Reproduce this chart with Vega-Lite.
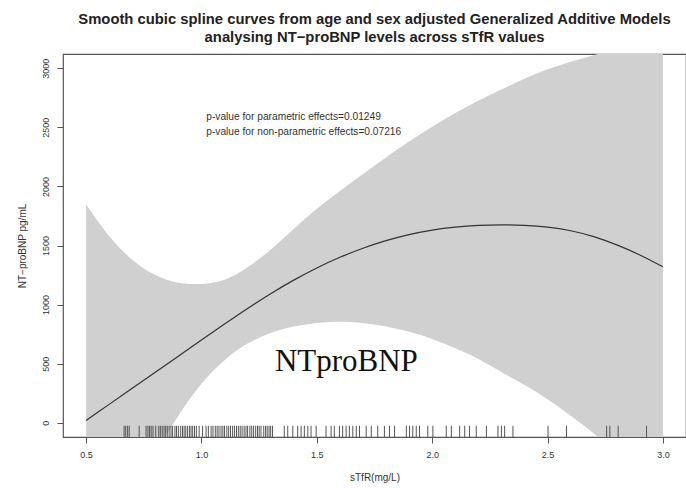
{
  "$schema": "https://vega.github.io/schema/vega-lite/v6.json",
  "width": 623,
  "height": 383,
  "autosize": "none",
  "padding": {"left": 63, "top": 54, "right": 0, "bottom": 51},
  "background": "white",
  "config": {
    "font": "Liberation Sans",
    "view": {"stroke": "#555", "strokeWidth": 1.2},
    "axis": {"grid": false, "domain": false, "tickColor": "#555", "tickSize": 6, "labelColor": "#333", "labelFontSize": 9, "titleColor": "#333", "titleFontSize": 10, "titleFontWeight": "normal", "labelFont": "Liberation Sans", "titleFont": "Liberation Sans"}
  },
  "title": {
    "text": ["Smooth cubic spline curves from age and sex adjusted Generalized Additive Models", "analysing NT\u2212proBNP levels across sTfR values"],
    "fontSize": 14.8,
    "fontWeight": "bold",
    "font": "Liberation Sans",
    "color": "#222",
    "anchor": "middle",
    "lineHeight": 18,
    "offset": 9
  },
  "datasets": {
    "curve": [
      {"x": 0.5, "fit": 20, "lo": -1300, "hi": 1850},
      {"x": 0.6, "fit": 156, "lo": -900, "hi": 1580},
      {"x": 0.7, "fit": 292, "lo": -560, "hi": 1380},
      {"x": 0.8, "fit": 428, "lo": -250, "hi": 1250},
      {"x": 0.9, "fit": 564, "lo": 60, "hi": 1185},
      {"x": 1.0, "fit": 700, "lo": 330, "hi": 1175},
      {"x": 1.1, "fit": 835, "lo": 530, "hi": 1210},
      {"x": 1.2, "fit": 967, "lo": 670, "hi": 1315},
      {"x": 1.3, "fit": 1092, "lo": 760, "hi": 1465},
      {"x": 1.4, "fit": 1207, "lo": 815, "hi": 1640},
      {"x": 1.5, "fit": 1310, "lo": 845, "hi": 1810},
      {"x": 1.6, "fit": 1400, "lo": 855, "hi": 1960},
      {"x": 1.7, "fit": 1477, "lo": 845, "hi": 2105},
      {"x": 1.8, "fit": 1541, "lo": 815, "hi": 2245},
      {"x": 1.9, "fit": 1592, "lo": 770, "hi": 2380},
      {"x": 2.0, "fit": 1630, "lo": 710, "hi": 2505},
      {"x": 2.1, "fit": 1655, "lo": 630, "hi": 2620},
      {"x": 2.2, "fit": 1670, "lo": 540, "hi": 2725},
      {"x": 2.3, "fit": 1675, "lo": 430, "hi": 2820},
      {"x": 2.4, "fit": 1670, "lo": 320, "hi": 2910},
      {"x": 2.5, "fit": 1655, "lo": 200, "hi": 2990},
      {"x": 2.6, "fit": 1625, "lo": 60, "hi": 3055},
      {"x": 2.7, "fit": 1575, "lo": -90, "hi": 3110},
      {"x": 2.8, "fit": 1505, "lo": -270, "hi": 3160},
      {"x": 2.9, "fit": 1420, "lo": -470, "hi": 3205},
      {"x": 3.0, "fit": 1320, "lo": -700, "hi": 3250}
    ],
    "rug": [
      {"x": 0.665}, {"x": 0.672}, {"x": 0.68}, {"x": 0.687}, {"x": 0.73}, {"x": 0.76}, {"x": 0.768}, {"x": 0.775}, {"x": 0.782}, {"x": 0.79},
      {"x": 0.802}, {"x": 0.815}, {"x": 0.822}, {"x": 0.83}, {"x": 0.838}, {"x": 0.845}, {"x": 0.852}, {"x": 0.86}, {"x": 0.868}, {"x": 0.875},
      {"x": 0.885}, {"x": 0.892}, {"x": 0.9}, {"x": 0.91}, {"x": 0.918}, {"x": 0.925}, {"x": 0.932}, {"x": 0.94}, {"x": 0.948}, {"x": 0.955},
      {"x": 0.962}, {"x": 0.97}, {"x": 0.978}, {"x": 0.99}, {"x": 1.005}, {"x": 1.02}, {"x": 1.03}, {"x": 1.042}, {"x": 1.05}, {"x": 1.06},
      {"x": 1.068}, {"x": 1.076}, {"x": 1.085}, {"x": 1.093}, {"x": 1.1}, {"x": 1.11}, {"x": 1.118}, {"x": 1.126}, {"x": 1.135}, {"x": 1.143},
      {"x": 1.152}, {"x": 1.16}, {"x": 1.168}, {"x": 1.176}, {"x": 1.185}, {"x": 1.193}, {"x": 1.2}, {"x": 1.21}, {"x": 1.218}, {"x": 1.226},
      {"x": 1.235}, {"x": 1.243}, {"x": 1.25}, {"x": 1.258}, {"x": 1.27}, {"x": 1.278}, {"x": 1.285}, {"x": 1.293}, {"x": 1.3}, {"x": 1.308},
      {"x": 1.359}, {"x": 1.374}, {"x": 1.396}, {"x": 1.417}, {"x": 1.432}, {"x": 1.446}, {"x": 1.461}, {"x": 1.475}, {"x": 1.497}, {"x": 1.54},
      {"x": 1.562}, {"x": 1.576}, {"x": 1.598}, {"x": 1.612}, {"x": 1.627}, {"x": 1.641}, {"x": 1.656}, {"x": 1.671}, {"x": 1.685}, {"x": 1.714},
      {"x": 1.736}, {"x": 1.764}, {"x": 1.793}, {"x": 1.815}, {"x": 1.837}, {"x": 1.888}, {"x": 1.902}, {"x": 1.916}, {"x": 1.931}, {"x": 1.945},
      {"x": 1.981}, {"x": 2.003}, {"x": 2.061}, {"x": 2.083}, {"x": 2.119}, {"x": 2.141}, {"x": 2.162}, {"x": 2.191}, {"x": 2.235}, {"x": 2.285},
      {"x": 2.3}, {"x": 2.314}, {"x": 2.35}, {"x": 2.502}, {"x": 2.582}, {"x": 2.756}, {"x": 2.77}, {"x": 2.806}, {"x": 2.929}
    ],
    "notes": [
      {"x": 1.021, "y": 2586, "label": "p-value for parametric effects=0.01249"},
      {"x": 1.021, "y": 2459, "label": "p-value for non-parametric effects=0.07216"}
    ],
    "big": [
      {"x": 1.628, "y": 515, "label": "NTproBNP"}
    ]
  },
  "layer": [
    {
      "data": {"name": "curve"},
      "mark": {"type": "area", "color": "#d0d0d0", "interpolate": "natural", "clip": true},
      "encoding": {
        "x": {"field": "x", "type": "quantitative", "scale": {"domain": [0.4, 3.1], "nice": false, "zero": false},
              "axis": {"values": [0.5, 1.0, 1.5, 2.0, 2.5, 3.0], "format": ".1f", "title": "sTfR(mg/L)", "labelPadding": 7, "titlePadding": 13}},
        "y": {"field": "lo", "type": "quantitative", "scale": {"domain": [-120, 3120], "nice": false, "zero": false},
              "axis": {"values": [0, 500, 1000, 1500, 2000, 2500, 3000], "format": "d", "labelAngle": -90, "title": "NT\u2212proBNP pg/mL", "labelPadding": 7, "titlePadding": 14}},
        "y2": {"field": "hi"}
      }
    },
    {
      "data": {"name": "curve"},
      "mark": {"type": "line", "color": "#333", "strokeWidth": 1.2, "interpolate": "natural", "clip": true},
      "encoding": {
        "x": {"field": "x", "type": "quantitative"},
        "y": {"field": "fit", "type": "quantitative"}
      }
    },
    {
      "data": {"name": "rug"},
      "mark": {"type": "rule", "color": "#555", "strokeWidth": 1},
      "encoding": {
        "x": {"field": "x", "type": "quantitative"},
        "y": {"datum": -120},
        "y2": {"datum": -25}
      }
    },
    {
      "data": {"name": "notes"},
      "mark": {"type": "text", "align": "left", "baseline": "middle", "fontSize": 10.2, "color": "#333", "font": "Liberation Sans"},
      "encoding": {
        "x": {"field": "x", "type": "quantitative"},
        "y": {"field": "y", "type": "quantitative"},
        "text": {"field": "label"}
      }
    },
    {
      "data": {"name": "big"},
      "mark": {"type": "text", "align": "center", "baseline": "middle", "fontSize": 31, "color": "#111", "font": "Liberation Serif"},
      "encoding": {
        "x": {"field": "x", "type": "quantitative"},
        "y": {"field": "y", "type": "quantitative"},
        "text": {"field": "label"}
      }
    }
  ]
}
